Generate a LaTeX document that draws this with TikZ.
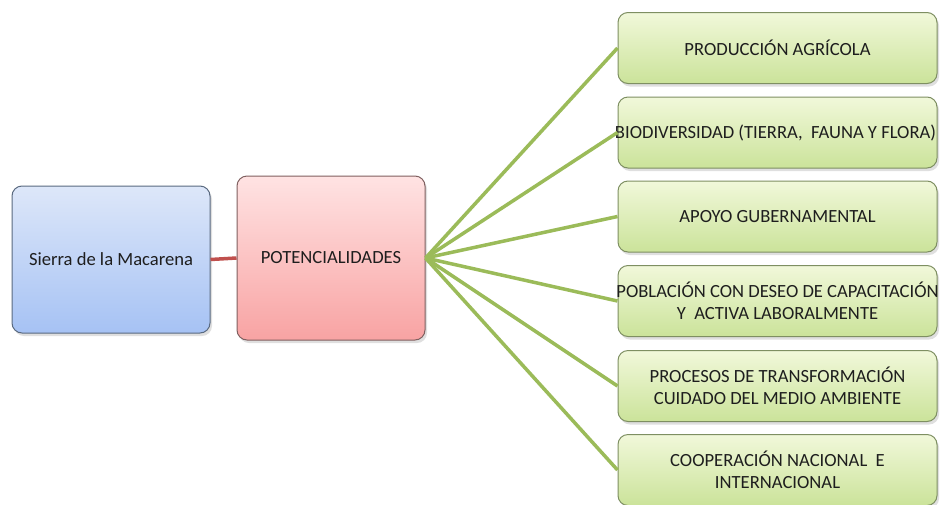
\documentclass[tikz,border=0pt]{standalone}
\usepackage{fontspec}
\setmainfont{Carlito}
\usetikzlibrary{shadows}
\definecolor{bluetop}{HTML}{DDE7F9}
\definecolor{bluebot}{HTML}{A6C2F4}
\definecolor{blueedge}{HTML}{5A6A80}
\definecolor{pinktop}{HTML}{FFE3E3}
\definecolor{pinkbot}{HTML}{F8A3A3}
\definecolor{pinkedge}{HTML}{806060}
\definecolor{greentop}{HTML}{F1F8DA}
\definecolor{greenbot}{HTML}{CBE39A}
\definecolor{greenedge}{HTML}{7E8F62}
\definecolor{redline}{HTML}{C0504D}
\definecolor{greenline}{HTML}{9BBB59}
\definecolor{txt}{HTML}{1E1E1E}
\tikzset{
  basebox/.style={rounded corners=10pt, line width=1pt, align=center,
    text=txt, font=\fontsize{18.6}{22.5}\selectfont, inner sep=0pt,
    drop shadow={shadow xshift=2pt, shadow yshift=-3pt, opacity=0.25}},
  bluebox/.style={basebox, draw=blueedge, top color=bluetop, bottom color=bluebot,
    minimum width=198pt, minimum height=147pt},
  pinkbox/.style={basebox, draw=pinkedge, top color=pinktop, bottom color=pinkbot,
    minimum width=188pt, minimum height=164pt},
  greenbox/.style={basebox, draw=greenedge, top color=greentop, bottom color=greenbot,
    minimum width=319pt, minimum height=71pt},
  redlink/.style={draw=redline, line width=3.5pt},
  greenlink/.style={draw=greenline, line width=3.5pt}
}
\begin{document}
\begin{tikzpicture}[x=1pt,y=-1pt]
\useasboundingbox (0,0) rectangle (940,504);
\fill[white] (0,0) rectangle (940,504);
\clip (0,0) rectangle (940,504);
\node[bluebox] (sierra) at (111,259.5) {Sierra de la Macarena};
\node[pinkbox] (pot) at (331,258) {POTENCIALIDADES};
\node[greenbox] (g1) at (777.5,48) {PRODUCCIÓN AGRÍCOLA};
\node[greenbox] (g2) at (777.5,132.5) {\makebox[0pt]{\hspace*{-4pt}BIODIVERSIDAD (TIERRA,\ \ FAUNA Y FLORA)}};
\node[greenbox] (g3) at (777.5,216.5) {APOYO GUBERNAMENTAL};
\node[greenbox] (g4) at (777.5,301) {\makebox[0pt]{POBLACIÓN CON DESEO DE CAPACITACIÓN}\\Y\ \ ACTIVA LABORALMENTE};
\node[greenbox] (g5) at (777.5,386) {PROCESOS DE TRANSFORMACIÓN\\CUIDADO DEL MEDIO AMBIENTE};
\node[greenbox] (g6) at (777.5,470) {COOPERACIÓN NACIONAL\ \ E\\INTERNACIONAL};
\draw[redlink] (sierra.east) -- (pot.west);
\foreach \g in {g1,g2,g3,g4,g5,g6}
  \draw[greenlink] (pot.east) -- (\g.west);
\end{tikzpicture}
\end{document}
